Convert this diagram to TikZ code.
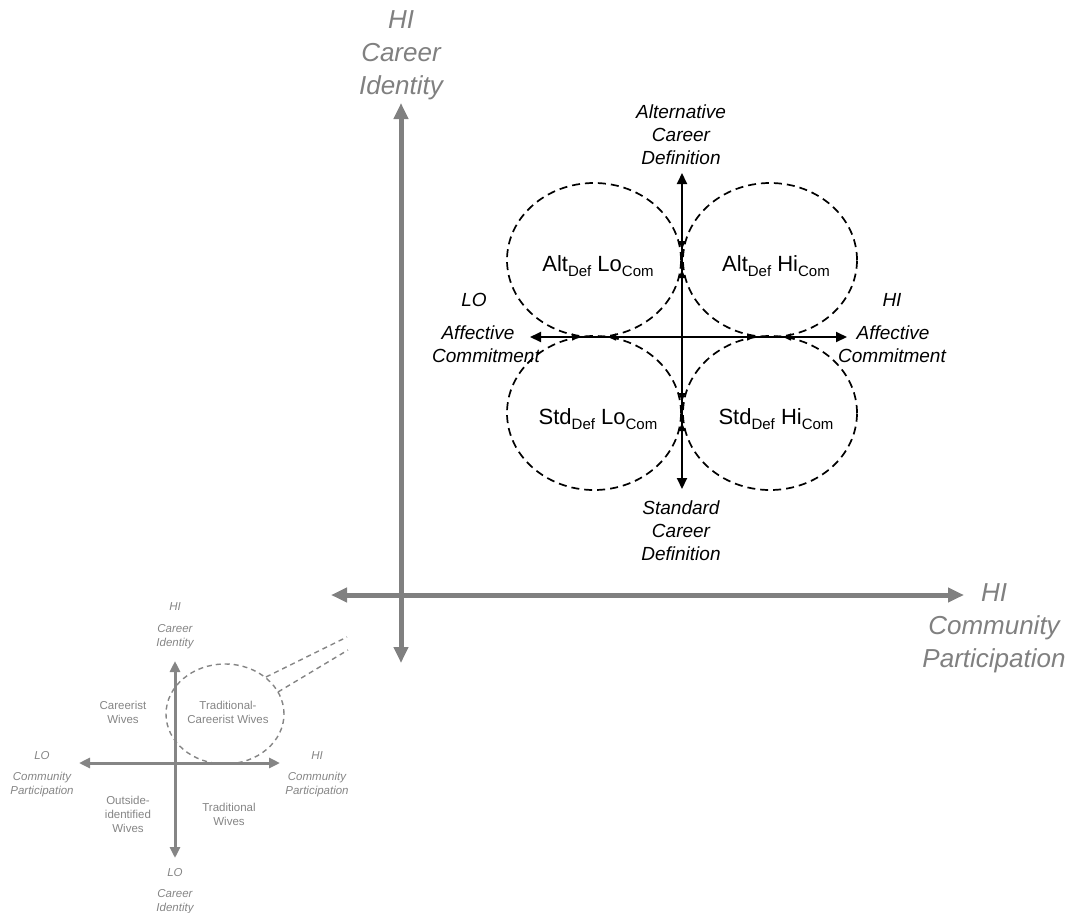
\documentclass[tikz,border=0pt]{standalone}
\usepackage{fontspec}
\setmainfont{Liberation Sans}
\usetikzlibrary{arrows.meta}
\definecolor{axisgray}{HTML}{808080}
\definecolor{insetgray}{HTML}{858585}
% lowered subscript in a fixed size
\newcommand\lowsub[1]{\raisebox{-4.5pt}{\fontsize{15}{15}\selectfont #1}}
\begin{document}
\begin{tikzpicture}[x=1pt,y=-1pt,
  bigaxis/.style={draw=axisgray,line width=5pt,
    {Triangle[length=16pt,width=14pt]}-{Triangle[length=16pt,width=14pt]}},
  biglabel/.style={text=axisgray,align=center,inner sep=0pt,
    font=\fontsize{26}{33}\selectfont\itshape},
  blackaxis/.style={draw=black,line width=2pt,
    {Triangle[length=11pt,width=10pt]}-{Triangle[length=11pt,width=10pt]}},
  tinytip/.style={draw=black,line width=1.5pt,-{Triangle[length=8pt,width=7pt]}},
  cellring/.style={draw=black,line width=1.7pt,dash pattern=on 8pt off 5pt},
  celltext/.style={inner sep=0pt,font=\fontsize{22}{26}\selectfont},
  blacklabel/.style={align=center,inner sep=0pt,
    font=\fontsize{19}{23}\selectfont\itshape},
  insetaxis/.style={draw=insetgray,line width=3pt,
    {Triangle[length=11pt,width=10pt]}-{Triangle[length=11pt,width=10pt]}},
  insetring/.style={draw=insetgray,line width=1.4pt,dash pattern=on 5pt off 4pt},
  insetlabel/.style={text=insetgray,align=center,inner sep=0pt,
    font=\fontsize{11.5}{14}\selectfont\itshape},
  insetcell/.style={text=insetgray,align=center,inner sep=0pt,
    font=\fontsize{11.5}{14}\selectfont},
]
\useasboundingbox (0,0) rectangle (1074,913);

% ---------- main gray axes ----------
\coordinate (ciTop) at (401,103);
\coordinate (ciBot) at (401,663);
\coordinate (cpLeft) at (331,595);
\coordinate (cpRight) at (964,595);
\draw[bigaxis] (ciBot) -- (ciTop);
\draw[bigaxis] (cpLeft) -- (cpRight);
\node[biglabel] (ciLabel) at (401,55) {HI\\Career\\Identity};
\node[biglabel] (cpLabel) at (994,628) {HI\\Community\\Participation};

% ---------- enlarged quadrant ----------
\coordinate (defTop) at (682,173);
\coordinate (defBot) at (682,489);
\coordinate (acLeft) at (530,337);
\coordinate (acRight) at (847,337);
\draw[blackaxis] (defBot) -- (defTop);
\draw[blackaxis] (acLeft) -- (acRight);

\draw[cellring] (594,260) ellipse [x radius=87pt,y radius=77pt];
\draw[cellring] (770,260) ellipse [x radius=87pt,y radius=77pt];
\draw[cellring] (594,413) ellipse [x radius=87pt,y radius=77pt];
\draw[cellring] (770,413) ellipse [x radius=87pt,y radius=77pt];

\node[celltext] (altLo) at (598,266) {Alt\lowsub{Def} Lo\lowsub{Com}};
\node[celltext] (altHi) at (776,266) {Alt\lowsub{Def} Hi\lowsub{Com}};
\node[celltext] (stdLo) at (598,419) {Std\lowsub{Def} Lo\lowsub{Com}};
\node[celltext] (stdHi) at (776,419) {Std\lowsub{Def} Hi\lowsub{Com}};

% small tips converging on the touching points
\coordinate (t1a) at (566,337); \coordinate (t1b) at (580,337);
\coordinate (t2a) at (622,337); \coordinate (t2b) at (608,337);
\coordinate (t3a) at (741,337); \coordinate (t3b) at (755,337);
\coordinate (t4a) at (797,337); \coordinate (t4b) at (783,337);
\coordinate (t5a) at (682,236); \coordinate (t5b) at (682,249);
\coordinate (t6a) at (682,283); \coordinate (t6b) at (682,270);
\coordinate (t7a) at (682,388); \coordinate (t7b) at (682,401);
\coordinate (t8a) at (682,436); \coordinate (t8b) at (682,423);
\foreach \s in {1,...,8} {\draw[tinytip] (t\s a) -- (t\s b);}

\node[blacklabel] (altDef) at (681,135) {Alternative\\Career\\Definition};
\node[blacklabel] (stdDef) at (681,531) {Standard\\Career\\Definition};
\node[blacklabel] (loMark) at (474,300) {LO};
\node[blacklabel] (loAff) at (478,333) {Affective};
\node[blacklabel] (loCom) at (486,356) {Commitment};
\node[blacklabel] (hiMark) at (892,300) {HI};
\node[blacklabel] (hiAff) at (893,333) {Affective};
\node[blacklabel] (hiCom) at (892,356) {Commitment};

% ---------- small overview diagram ----------
\coordinate (sTop) at (175,661);
\coordinate (sBot) at (175,858);
\coordinate (sLeft) at (79,763);
\coordinate (sRight) at (280,763);
\draw[insetaxis] (sBot) -- (sTop);
\draw[insetaxis] (sLeft) -- (sRight);

\draw[insetring] (225,714) ellipse [x radius=59pt,y radius=50pt];
\coordinate (zoomA1) at (266,677); \coordinate (zoomA2) at (347,637);
\coordinate (zoomB1) at (278,692); \coordinate (zoomB2) at (348,650);
\draw[insetring] (zoomA1) -- (zoomA2);
\draw[insetring] (zoomB1) -- (zoomB2);

\node[insetlabel] (sHiCi) at (175,607) {HI};
\node[insetlabel] (sCi) at (175,637) {Career\\Identity};
\node[insetlabel] (sLoCi) at (175,873) {LO};
\node[insetlabel] (sCi2) at (175,902) {Career\\Identity};
\node[insetlabel] (sLoCp) at (42,756) {LO};
\node[insetlabel] (sCp) at (42,785) {Community\\Participation};
\node[insetlabel] (sHiCp) at (317,756) {HI};
\node[insetlabel] (sCp2) at (317,785) {Community\\Participation};

\node[insetcell] (careerist) at (123,712) {Careerist\\Wives};
\node[insetcell] (tradCar) at (228,712) {Traditional-\\Careerist Wives};
\node[insetcell] (outside) at (128,814) {Outside-\\identified\\Wives};
\node[insetcell] (trad) at (229,814) {Traditional\\Wives};
\end{tikzpicture}
\end{document}
